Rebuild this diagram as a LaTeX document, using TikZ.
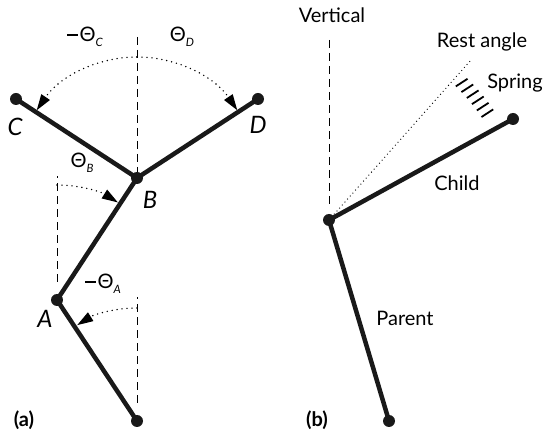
\documentclass[tikz,border=0pt]{standalone}
\usepackage{fontspec}
\setmainfont{Lato}
\usetikzlibrary{arrows.meta}
\newcommand{\angsym}[1]{Θ\raisebox{-0.45ex}{\fontsize{11.5}{13}\selectfont\itshape #1}}
\newcommand{\minussign}{\raisebox{0.3em}{\rule{0.55em}{0.075em}}\hspace{0.08em}}

\begin{document}
\begin{tikzpicture}[x=1pt, y=1pt,
    joint/.style={circle, fill=black!90, inner sep=0pt, minimum size=12pt},
    link/.style={line width=4.5pt, draw=black!90},
    vline/.style={line width=1pt, dash pattern=on 8pt off 5pt},
    anglearc/.style={line width=1.6pt, line cap=round, dash pattern=on 0pt off 5pt,
      -{Triangle[length=16pt,width=10pt]}},
    restline/.style={line width=1.3pt, line cap=round, dash pattern=on 0pt off 4pt},
    spring/.style={line width=1.8pt},
    lbl/.style={font=\fontsize{20}{23}\selectfont},
    jointlbl/.style={font=\fontsize{24}{28}\selectfont\itshape},
    tag/.style={font=\fontsize{20}{23}\selectfont\bfseries}]
  \useasboundingbox (0,0) rectangle (550,437);

  % (a) joint angles
  \node[joint] (R) at (137,16) {};
  \node[joint] (A) at (57,137) {};
  \node[joint] (B) at (137,259) {};
  \node[joint] (C) at (16,338) {};
  \node[joint] (D) at (258,338) {};
  \coordinate (vtopa) at (137,400);
  \coordinate (vR) at (137,140);
  \coordinate (vA) at (57,261);

  \draw[vline] (vtopa) -- (B);
  \draw[vline, shorten <=12pt] (R) -- (vR);
  \draw[vline, shorten <=12pt] (A) -- (vA);

  \draw[link] (R.center) -- (A.center) -- (B.center) -- (C.center);
  \draw[link] (B.center) -- (D.center);

  \draw[anglearc] (B.center) ++(90:121) arc[start angle=90, end angle=146, radius=121];
  \draw[anglearc] (B.center) ++(90:121) arc[start angle=90, end angle=34, radius=121];
  \draw[anglearc] (A.center) ++(90:115) arc[start angle=90, end angle=58, radius=115];
  \draw[anglearc] (R.center) ++(90:113) arc[start angle=90, end angle=122, radius=113];

  \node[lbl] (thC) at (85,400) {\minussign\angsym{C}};
  \node[lbl] (thD) at (182,400) {\angsym{D}};
  \node[lbl] (thB) at (82,274) {\angsym{B}};
  \node[lbl] (thA) at (103,153) {\minussign\angsym{A}};
  \node[jointlbl] (lC) at (15,310) {C};
  \node[jointlbl] (lD) at (258,312) {D};
  \node[jointlbl] (lB) at (150,237) {B};
  \node[jointlbl] (lA) at (45,118) {A};
  \node[tag] (taga) at (24,17) {(a)};

  % (b) spring to rest angle
  \node[joint] (P) at (389,16) {};
  \node[joint] (J) at (329,217) {};
  \node[joint] (E) at (513,318) {};
  \coordinate (vtopb) at (329,397);
  \coordinate (rest) at (471,377);

  \draw[vline, shorten >=9pt] (vtopb) -- (J);
  \draw[restline] (J.center) -- (rest);
  \draw[link] (P.center) -- (J.center) -- (E.center);
  \foreach \i in {0,...,5} {
    \pgfmathsetmacro{\a}{46-2.4*\i}
    \draw[spring] (J.center) ++(\a:191) ++(213:7) -- ++(33:14);
  }

  \node[lbl] (vert) at (332,422) {Vertical};
  \node[lbl] (restl) at (482,395) {Rest angle};
  \node[lbl] (spr) at (515,354) {Spring};
  \node[lbl] (chl) at (457,254) {Child};
  \node[lbl] (par) at (405,119) {Parent};
  \node[tag] (tagb) at (317,17) {(b)};
\end{tikzpicture}
\end{document}
